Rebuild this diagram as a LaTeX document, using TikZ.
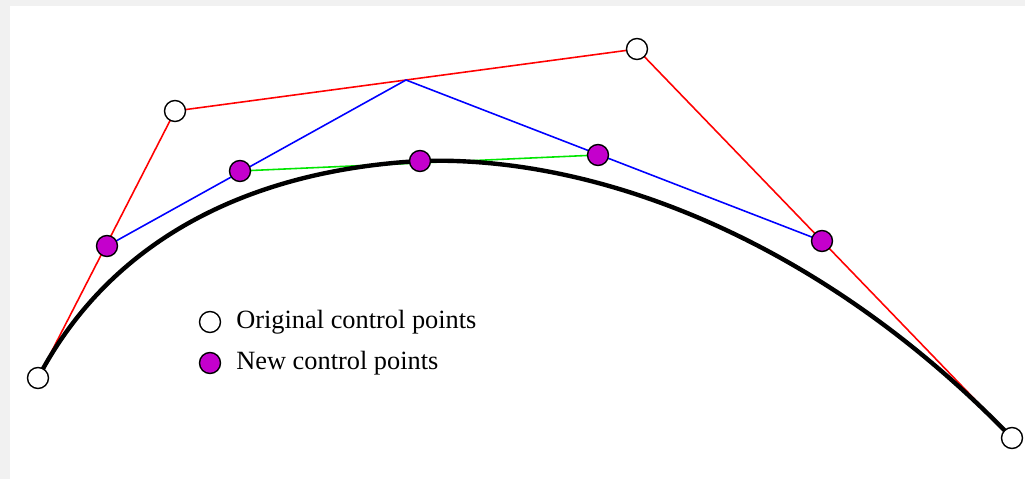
\documentclass[tikz,border=0pt]{standalone}
\usepackage{fontspec}
\setmainfont{Liberation Serif}
\usepackage{tikz}
\usetikzlibrary{positioning,calc}
\definecolor{CtrlRed}{RGB}{255,0,0}
\definecolor{CtrlBlue}{RGB}{0,0,255}
\definecolor{CtrlGreen}{RGB}{0,230,0}
\definecolor{NewPurple}{RGB}{196,0,204}
\definecolor{PaperGray}{RGB}{241,241,241}
\tikzset{
    oldpt/.style={circle,draw=black,line width=0.8pt,fill=white,minimum size=0.42cm,inner sep=0pt},
    newpt/.style={circle,draw=black,line width=0.8pt,fill=NewPurple,minimum size=0.42cm,inner sep=0pt},
    legendtext/.style={right,inner sep=0pt,font=\fontsize{15}{17}\selectfont}
}
\begin{document}
\begin{tikzpicture}[x=0.02cm,y=-0.02cm]
            \useasboundingbox (0,0) rectangle (1025,479);
            \fill[PaperGray] (0,0) rectangle (1025,479);
            \fill[white] (10,6) rectangle (1025,479);
            % control polygon and its subdivision
            \coordinate (p0) at (38,378);
            \coordinate (p1) at (175,111);
            \coordinate (p2) at (637,49);
            \coordinate (p3) at (1012,438);
            \coordinate (m01) at (107,246);
            \coordinate (m12) at (406,80);
            \coordinate (m23) at (822,241);
            \coordinate (q0) at (240,171);
            \coordinate (q1) at (598,155);
            \coordinate (r) at (420,161);
            \draw[CtrlRed,line width=0.9pt] (p0)--(p1)--(p2)--(p3);
            \draw[CtrlBlue,line width=0.9pt] (m01)--(m12)--(m23);
            \draw[CtrlGreen,line width=0.9pt] (q0)--(q1);
            \draw[black,line width=2.5pt] (p0) .. controls (m01) and (q0) .. (r)
                .. controls (q1) and (m23) .. (p3);
            % points
            \foreach \pt in {p0,p1,p2,p3} {\node[oldpt] (\pt dot) at (\pt) {};}
            \foreach \pt in {m01,m23,q0,q1,r} {\node[newpt] (\pt dot) at (\pt) {};}
            % legend
            \node[oldpt] (keyold) at (210,322) {};
            \node[newpt] (keynew) at (210,363) {};
            \node[legendtext] (keyoldtext) at (236,322) {Original control points};
            \node[legendtext] (keynewtext) at (236,363) {New control points};
        \end{tikzpicture}
\end{document}
